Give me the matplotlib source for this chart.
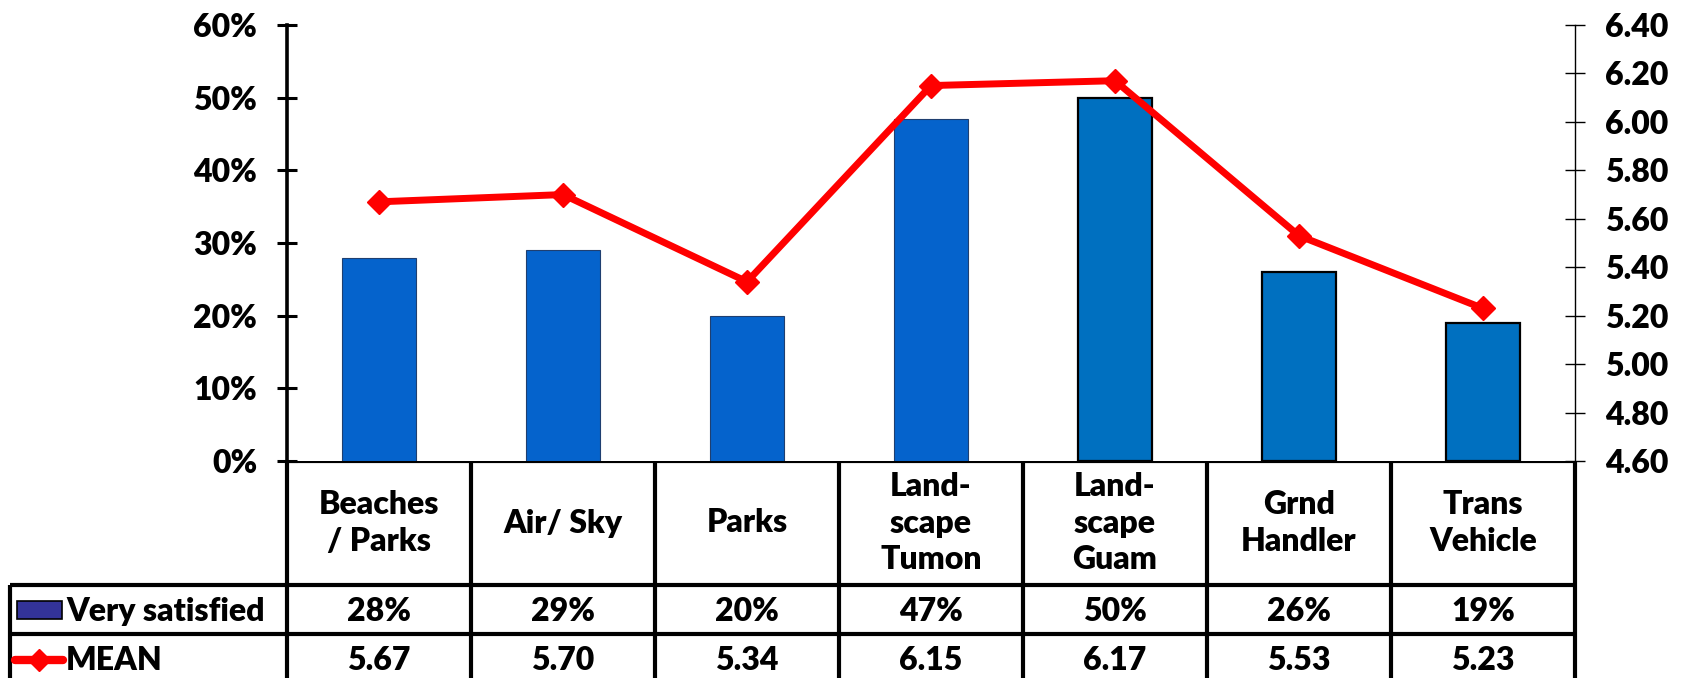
import matplotlib.pyplot as plt
from matplotlib.patches import Rectangle
from matplotlib.ticker import PercentFormatter
import numpy as np

plt.rcParams['font.family'] = ['Lato', 'DejaVu Sans']
plt.rcParams['font.weight'] = 'heavy'

# Data
categories = ["Beaches\n/ Parks", "Air/ Sky", "Parks", "Land-\nscape\nTumon",
              "Land-\nscape\nGuam", "Grnd\nHandler", "Trans\nVehicle"]
very_satisfied = [0.28, 0.29, 0.20, 0.47, 0.50, 0.26, 0.19]
mean_scores = [5.67, 5.70, 5.34, 6.15, 6.17, 5.53, 5.23]
bar_colors = ["#0563CC", "#0563CC", "#0563CC", "#0563CC", "#0070C0", "#0070C0", "#0070C0"]

W, H = 1684, 678
fig = plt.figure(figsize=(W / 100, H / 100), dpi=100)

# main plot area in pixels
L, R, T, B = 287, 1575, 25, 461
col_w = (R - L) / len(categories)
ax = fig.add_axes([L / W, 1 - B / H, (R - L) / W, (B - T) / H])
x = np.arange(len(categories))

ax.bar(x, very_satisfied, width=0.4, color=bar_colors,
       edgecolor=["#1f3f70"] * 4 + ["black"] * 3, linewidth=[0.8] * 4 + [1.6] * 3, zorder=2)
ax.set_xlim(-0.5, len(categories) - 0.5)
ax.set_ylim(0, 0.6)
ax.set_yticks(np.arange(0, 0.61, 0.1))
ax.yaxis.set_major_formatter(PercentFormatter(1.0, decimals=0))
ax.set_xticks([])
ax.tick_params(axis='y', direction='inout', length=15, width=2.2, pad=14, labelsize=23)
for s in ['top', 'right']:
    ax.spines[s].set_visible(False)
ax.spines['left'].set_linewidth(2.6)
ax.spines['bottom'].set_visible(False)

ax2 = ax.twinx()
ax2.plot(x, mean_scores, color='#FF0000', linewidth=5, marker='D', markersize=12, zorder=3)
ax2.set_ylim(4.6, 6.4)
ax2.set_yticks(np.arange(4.6, 6.41, 0.2))
ax2.yaxis.set_major_formatter(lambda v, p: f"{v:.2f}")
ax2.tick_params(axis='y', direction='inout', length=15, width=1, pad=14, labelsize=23)
for s in ['top', 'left', 'bottom']:
    ax2.spines[s].set_visible(False)
ax2.spines['right'].set_linewidth(1)

# Table area below the plot (x in category units, y in pixels from top of table)
tax = fig.add_axes([0, 0, 1, (H - B) / H])
tax.set_xlim(-0.5 - L / col_w, len(categories) - 0.5 + (W - R) / col_w)
tax.set_ylim(H - B, 0)
tax.axis('off')


def px(xp):
    return (xp - L) / col_w - 0.5


lw = 3
row1, row2 = 124, 173
n = len(categories)
fs = 23
tax.hlines(0, -0.5, n - 0.5, color='black', linewidth=lw)
tax.hlines([row1, row2], px(10), n - 0.5, color='black', linewidth=lw)
tax.vlines(np.arange(n + 1) - 0.5, 0, H - B, color='black', linewidth=lw)
tax.vlines(px(10), row1, H - B, color='black', linewidth=lw)

for i, c in enumerate(categories):
    tax.text(i, row1 / 2, c, ha='center', va='center', fontsize=fs, linespacing=1.3)
    tax.text(i, (row1 + row2) / 2 + 2, f"{very_satisfied[i]:.0%}", ha='center', va='center', fontsize=fs)
    tax.text(i, row2 + 26, f"{mean_scores[i]:.2f}", ha='center', va='center', fontsize=fs)

# legend keys inside the table
tax.add_patch(Rectangle((px(17), 140), px(62) - px(17), 18, facecolor='#333399',
                        edgecolor='black', linewidth=1.2))
tax.text(px(66), (row1 + row2) / 2 + 2, "Very satisfied", ha='left', va='center', fontsize=fs)
tax.plot([px(15), px(63)], [row2 + 26, row2 + 26], color='#FF0000', linewidth=6,
         solid_capstyle='round')
tax.plot([(px(15) + px(63)) / 2], [row2 + 26], marker='D', color='#FF0000', markersize=11)
tax.text(px(66), row2 + 26, "MEAN", ha='left', va='center', fontsize=fs)

fig.savefig("out.png", dpi=100)
